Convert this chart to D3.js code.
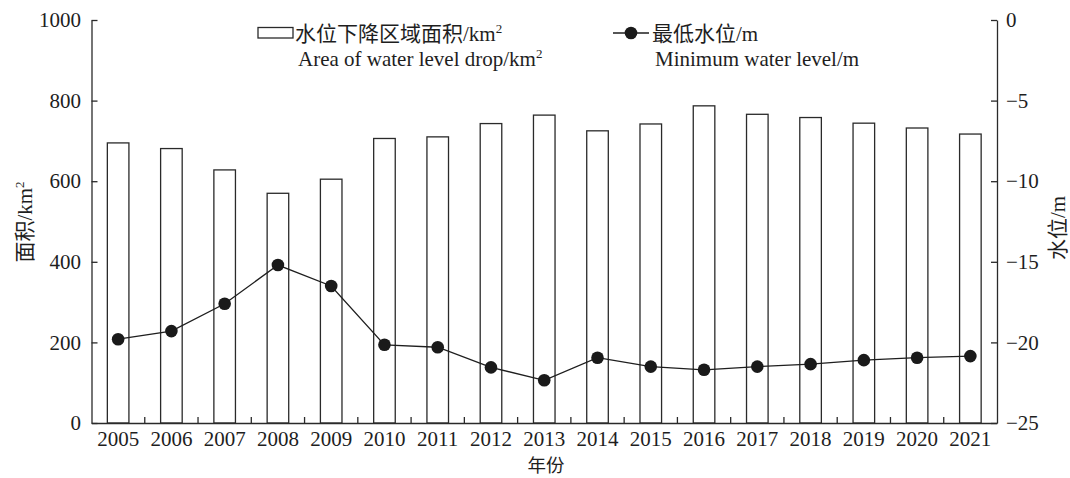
<!DOCTYPE html>
<html><head><meta charset="utf-8">
<script src="https://cdn.jsdelivr.net/npm/d3@7"></script>
<style>
body{margin:0;background:#fff}
text{font-family:"Liberation Serif","Times New Roman",serif;fill:#1e1e1e}
.cjk{font-family:"Noto Sans CJK SC","Noto Sans CJK JP",sans-serif}
</style>
</head><body><svg id="c" width="1070" height="478"></svg>
<script>
const years = ["2005","2006","2007","2008","2009","2010","2011","2012","2013","2014","2015","2016","2017","2018","2019","2020","2021"];
const areaValues = [695, 681, 628, 570, 605, 706, 710, 743, 764, 725, 742, 787, 766, 758, 744, 732, 717];
const minLevelValues = [-19.8, -19.3, -17.6, -15.2, -16.5, -20.15, -20.3, -21.55, -22.35, -20.95, -21.5, -21.7, -21.5, -21.35, -21.1, -20.95, -20.85];
const areaTicks = [0, 200, 400, 600, 800, 1000];
const levelTicks = [0, -5, -10, -15, -20, -25];

const svg = d3.select("#c");
const L = 91.5, R = 997, T = 20, B = 423;
const stroke = "#2a2a2a";

const x = d3.scaleBand().domain(years).range([L, R]).padding(0);
const yA = d3.scaleLinear().domain([0, 1000]).range([B, T]);
const yL = d3.scaleLinear().domain([-25, 0]).range([B, T]);

// bars
const bw = x.bandwidth() * 0.405;
svg.append("g").selectAll("rect").data(years).join("rect")
  .attr("x", (d) => x(d) + (x.bandwidth() - bw) / 2)
  .attr("y", (d, i) => yA(areaValues[i]))
  .attr("width", bw)
  .attr("height", (d, i) => B - yA(areaValues[i]))
  .attr("fill", "#fff").attr("stroke", stroke).attr("stroke-width", 1.3);

// line
const cx = (d) => x(d) + x.bandwidth() / 2;
const line = d3.line().x((d, i) => cx(years[i])).y((d) => yL(d));
svg.append("path").datum(minLevelValues).attr("d", line)
  .attr("fill", "none").attr("stroke", "#1e1e1e").attr("stroke-width", 1.3);
svg.append("g").selectAll("circle").data(minLevelValues).join("circle")
  .attr("cx", (d, i) => cx(years[i])).attr("cy", (d) => yL(d)).attr("r", 6.3)
  .attr("fill", "#1a1a1a");

function styleAxis(g) {
  g.selectAll("path.domain").attr("stroke", stroke).attr("stroke-width", 1.3);
  g.selectAll(".tick line").attr("stroke", stroke).attr("stroke-width", 1.3);
  g.selectAll(".tick text").attr("font-size", 21).attr("font-family", '"Liberation Serif",serif').attr("fill", "#1e1e1e");
}

// left axis
const gL = svg.append("g").attr("transform", `translate(${L},0)`)
  .call(d3.axisLeft(yA).tickValues(areaTicks).tickFormat(d3.format("d")).tickSizeInner(-6).tickSizeOuter(0).tickPadding(10.5));
styleAxis(gL);
// right axis
const gR = svg.append("g").attr("transform", `translate(${R},0)`)
  .call(d3.axisRight(yL).tickValues(levelTicks).tickFormat(d3.format("d")).tickSizeInner(-6).tickSizeOuter(0).tickPadding(9));
styleAxis(gR);
// bottom axis (labels)
const gB = svg.append("g").attr("transform", `translate(0,${B})`)
  .call(d3.axisBottom(x).tickSize(0).tickPadding(8));
styleAxis(gB);
// boundary ticks
svg.append("g").selectAll("line").data(years.slice(1)).join("line")
  .attr("x1", (d) => x(d)).attr("x2", (d) => x(d))
  .attr("y1", B).attr("y2", B - 6)
  .attr("stroke", stroke).attr("stroke-width", 1.3);

// axis titles
function mixed(t, parts) {
  parts.forEach((p) => {
    const s = t.append("tspan").text(p.t);
    if (p.cjk) s.attr("class", "cjk").attr("font-size", 21);
    else if (p.sup) s.attr("font-size", 13).attr("dy", -8);
    else s.attr("font-size", 21);
  });
  return t;
}
mixed(svg.append("text").attr("transform", "translate(32,222) rotate(-90)").attr("text-anchor", "middle"),
  [{t: "面积", cjk: true}, {t: "/km"}, {t: "2", sup: true}]);
mixed(svg.append("text").attr("transform", "translate(1065,228) rotate(-90)").attr("text-anchor", "middle"),
  [{t: "水位", cjk: true}, {t: "/m"}]);
svg.append("text").attr("class", "cjk").attr("x", 546).attr("y", 472.3).attr("text-anchor", "middle")
  .attr("font-size", 18.5).text("年份");

// legend
svg.append("rect").attr("x", 258).attr("y", 27.5).attr("width", 35).attr("height", 10.5)
  .attr("fill", "#fff").attr("stroke", stroke).attr("stroke-width", 1.3);
mixed(svg.append("text").attr("x", 295).attr("y", 41),
  [{t: "水位下降区域面积", cjk: true}, {t: "/km"}, {t: "2", sup: true}]);
mixed(svg.append("text").attr("x", 298).attr("y", 66),
  [{t: "Area of water level drop/km"}, {t: "2", sup: true}]);

svg.append("line").attr("x1", 613).attr("x2", 649).attr("y1", 33).attr("y2", 33)
  .attr("stroke", "#1e1e1e").attr("stroke-width", 1.3);
svg.append("circle").attr("cx", 631).attr("cy", 33).attr("r", 6.3).attr("fill", "#1a1a1a");
mixed(svg.append("text").attr("x", 652).attr("y", 41),
  [{t: "最低水位", cjk: true}, {t: "/m"}]);
mixed(svg.append("text").attr("x", 655).attr("y", 66),
  [{t: "Minimum water level/m"}]);
</script>
</body></html>
